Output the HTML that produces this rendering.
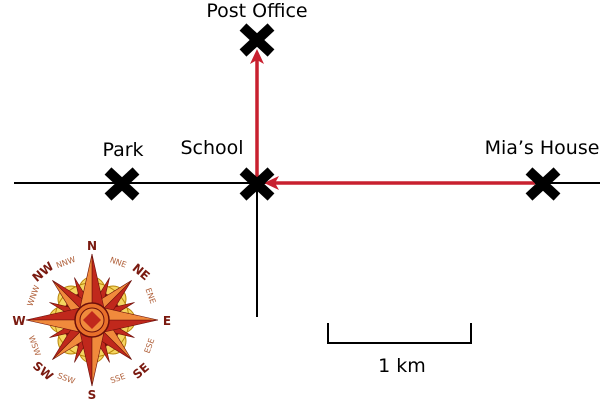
<!DOCTYPE html>
<html><head><meta charset="utf-8"><style>
body{margin:0;background:#fff;}
svg{display:block;font-family:"DejaVu Sans","Liberation Sans",sans-serif;}
.lbl{font-size:19px;fill:#000;text-anchor:middle;}
.big{font-size:12px;font-weight:bold;fill:#7a1a10;text-anchor:middle;}
.sm{font-size:8px;fill:#b0603a;text-anchor:middle;}
</style></head><body>
<svg width="600" height="409" viewBox="0 0 600 409">
<g stroke="#000" stroke-width="2">
<line x1="14" y1="183" x2="600" y2="183"/>
<line x1="257" y1="183" x2="257" y2="317"/>
</g>
<g stroke="#c8202f" stroke-width="3.5" fill="#c8202f">
<line x1="257" y1="183" x2="257" y2="60"/>
<polygon points="257,49 250,64 257,60 264,64" stroke="none"/>
<line x1="535" y1="183" x2="275" y2="183"/>
<polygon points="264,183 279,176 275,183 279,190" stroke="none"/>
</g>
<g stroke="#000" stroke-width="10" stroke-linecap="butt">
<g transform="translate(122,184)"><line x1="-14" y1="-13" x2="14" y2="13"/><line x1="14" y1="-13" x2="-14" y2="13"/></g>
<g transform="translate(257,184)"><line x1="-14" y1="-13" x2="14" y2="13"/><line x1="14" y1="-13" x2="-14" y2="13"/></g>
<g transform="translate(543,184)"><line x1="-14" y1="-13" x2="14" y2="13"/><line x1="14" y1="-13" x2="-14" y2="13"/></g>
<g transform="translate(257,40)"><line x1="-14" y1="-13" x2="14" y2="13"/><line x1="14" y1="-13" x2="-14" y2="13"/></g>
</g>
<text class="lbl" x="123" y="156">Park</text>
<text class="lbl" x="212" y="154">School</text>
<text class="lbl" x="542" y="154">Mia’s House</text>
<text class="lbl" x="257" y="17">Post Office</text>
<text class="lbl" x="402" y="372">1 km</text>
<polyline points="328,323 328,343 471,343 471,323" fill="none" stroke="#000" stroke-width="2"/>
<g transform="translate(92,320)">
<g fill="#f5d560" stroke="#b8860b" stroke-width="1">
<circle cx="0" cy="-30" r="13"/><circle cx="0" cy="30" r="13"/><circle cx="-30" cy="0" r="13"/><circle cx="30" cy="0" r="13"/>
<circle cx="-21" cy="-21" r="13"/><circle cx="21" cy="-21" r="13"/><circle cx="-21" cy="21" r="13"/><circle cx="21" cy="21" r="13"/>
<circle r="37"/>
</g>
<circle r="30" fill="#8a1a10"/>
<g fill="#c0281c" stroke="#6b0f0a" stroke-width="0.6">
<polygon points="0,-46 6,-8 -6,-8" transform="rotate(22.5)"/><polygon points="0,-46 6,-8 -6,-8" transform="rotate(67.5)"/>
<polygon points="0,-46 6,-8 -6,-8" transform="rotate(112.5)"/><polygon points="0,-46 6,-8 -6,-8" transform="rotate(157.5)"/>
<polygon points="0,-46 6,-8 -6,-8" transform="rotate(202.5)"/><polygon points="0,-46 6,-8 -6,-8" transform="rotate(247.5)"/>
<polygon points="0,-46 6,-8 -6,-8" transform="rotate(292.5)"/><polygon points="0,-46 6,-8 -6,-8" transform="rotate(337.5)"/>
</g>
<g stroke="#6b0f0a" stroke-width="0.6">
<g transform="rotate(45)"><polygon points="0,-56 11,-10 0,0" fill="#c0281c"/><polygon points="0,-56 -11,-10 0,0" fill="#f08a3c"/></g>
<g transform="rotate(135)"><polygon points="0,-56 11,-10 0,0" fill="#c0281c"/><polygon points="0,-56 -11,-10 0,0" fill="#f08a3c"/></g>
<g transform="rotate(225)"><polygon points="0,-56 11,-10 0,0" fill="#c0281c"/><polygon points="0,-56 -11,-10 0,0" fill="#f08a3c"/></g>
<g transform="rotate(315)"><polygon points="0,-56 11,-10 0,0" fill="#c0281c"/><polygon points="0,-56 -11,-10 0,0" fill="#f08a3c"/></g>
<g transform="rotate(0)"><polygon points="0,-66 12,-12 0,0" fill="#c0281c"/><polygon points="0,-66 -12,-12 0,0" fill="#f08a3c"/></g>
<g transform="rotate(90)"><polygon points="0,-66 12,-12 0,0" fill="#c0281c"/><polygon points="0,-66 -12,-12 0,0" fill="#f08a3c"/></g>
<g transform="rotate(180)"><polygon points="0,-66 12,-12 0,0" fill="#c0281c"/><polygon points="0,-66 -12,-12 0,0" fill="#f08a3c"/></g>
<g transform="rotate(270)"><polygon points="0,-66 12,-12 0,0" fill="#c0281c"/><polygon points="0,-66 -12,-12 0,0" fill="#f08a3c"/></g>
</g>
<circle r="17" fill="#e8702a" stroke="#6b0f0a" stroke-width="1.5"/>
<circle r="12" fill="#f08a3c" stroke="#6b0f0a" stroke-width="1"/>
<polygon points="0,-9 9,0 0,9 -9,0" fill="#c0281c"/>
<text class="big" x="0" y="-70">N</text><text class="big" x="0" y="79">S</text><text class="big" x="-73" y="5">W</text><text class="big" x="75" y="5">E</text>
<text class="big" x="-49" y="-44" transform="rotate(-40 -49 -48)">NW</text><text class="big" x="49" y="-44" transform="rotate(40 49 -48)">NE</text>
<text class="big" x="-49" y="55" transform="rotate(40 -49 51)">SW</text><text class="big" x="49" y="55" transform="rotate(-40 49 51)">SE</text>
<text class="sm" x="-26" y="-55" transform="rotate(-20 -26 -57)">NNW</text><text class="sm" x="26" y="-55" transform="rotate(20 26 -57)">NNE</text>
<text class="sm" x="-58" y="-22" transform="rotate(-70 -58 -24)">WNW</text><text class="sm" x="58" y="-22" transform="rotate(70 58 -24)">ENE</text>
<text class="sm" x="-58" y="28" transform="rotate(70 -58 26)">WSW</text><text class="sm" x="58" y="28" transform="rotate(-70 58 26)">ESE</text>
<text class="sm" x="-26" y="61" transform="rotate(20 -26 59)">SSW</text><text class="sm" x="26" y="61" transform="rotate(-20 26 59)">SSE</text>
</g>
</svg>
</body></html>
